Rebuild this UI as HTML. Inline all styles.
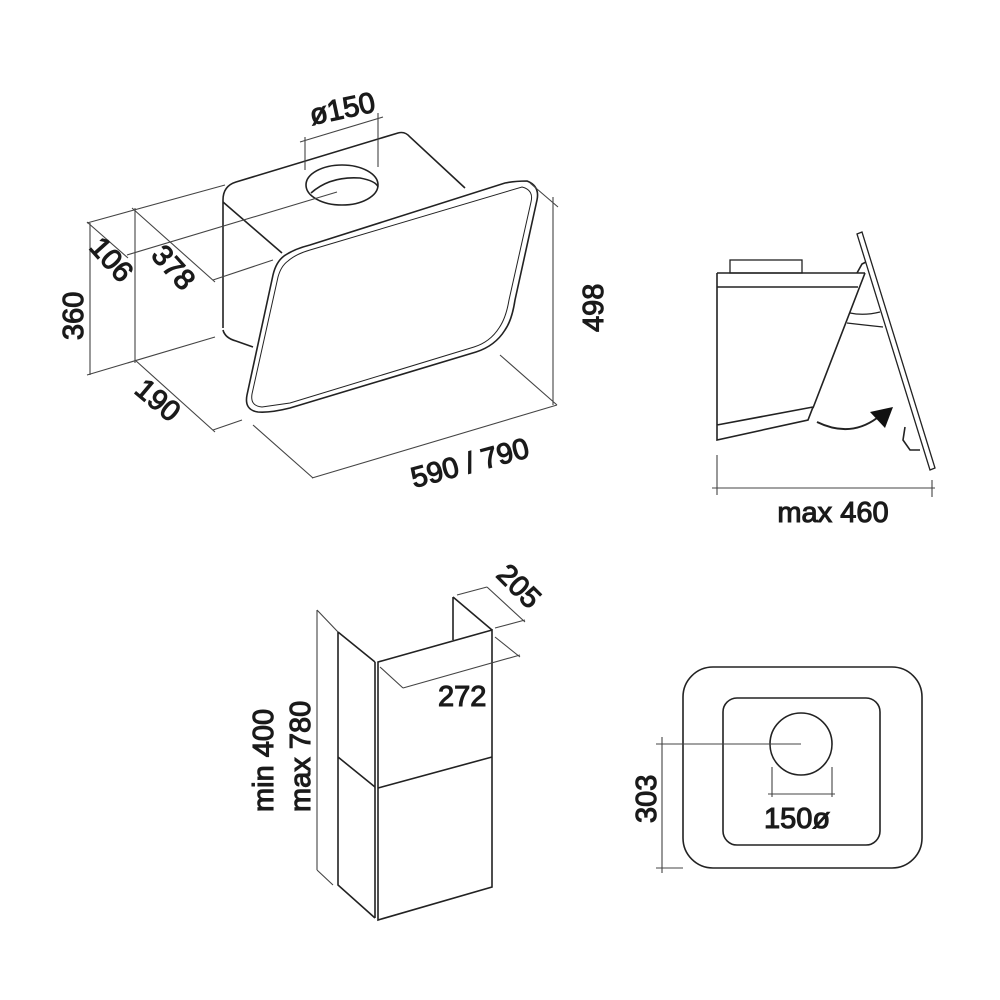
<!DOCTYPE html>
<html><head><meta charset="utf-8"><style>
html,body{margin:0;padding:0;background:#fff}
svg{display:block}
text{font-family:"Liberation Sans",sans-serif;font-size:29px;fill:#1a1a1a;stroke:#1a1a1a;stroke-width:1.1}
.d{stroke:#444;stroke-width:1.1;fill:none}
.o{stroke:#222;stroke-width:1.6;fill:none}
</style></head><body>
<svg width="1000" height="1000" viewBox="0 0 1000 1000" xmlns="http://www.w3.org/2000/svg">
<!-- MAIN HOOD -->
<g class="o">
  <path d="M223,328 L223,200 Q223,186 236,182 L398,133 Q405,131 410,137 L465,188"/>
  <path d="M223,202 L282,253"/>
  <path d="M223,330 Q225,338 236,341 L253,347"/>
  <ellipse cx="342" cy="185" rx="36" ry="20"/>
  <path d="M311,193 Q330,176 360,178 Q376,181 378,187"/>
  <path d="M284,256 Q276,262 273,275 L247,395 Q244,410 258,412 Q270,413 290,408 L476,352 Q495,346 505,330 Q512,320 515,300 L537,200 Q540,186 527,181 Q515,181 505,183 L310,245 Q294,249 284,256 Z"/>
  <path d="M288,261 Q281,266 278,277 L252,394 Q250,406 262,407 L290,403 L474,347 Q490,342 499,328 Q506,318 509,300 L531,202 Q534,190 522,187 L310,250 Q296,254 288,261 Z" stroke-width="1"/>
</g>
<g class="d">
  <path d="M300,142 L383,117 M305,137 L305,170 M378,113 L378,167"/>
  <path d="M87,223 L225,185 M127,255 L337,192 M213,280 L273,260 M87,375 L215,337 M213,430 L242,420"/>
  <path d="M90,223 L90,375 M135,208 L135,363"/>
  <path d="M87,222 L128,258 M132,208 L215,282 M135,360 L215,432 M253,425 L313,478"/>
  <path d="M312,478 L557,405 M553,197 L553,405 M530,183 L558,207 M500,355 L557,405"/>
</g>
<text transform="translate(312,125) rotate(-12)">ø150</text>
<text transform="translate(88,248) rotate(48)">106</text>
<text transform="translate(150,256) rotate(48)">378</text>
<text transform="translate(83,340) rotate(-90)">360</text>
<text transform="translate(133,392) rotate(40)">190</text>
<text transform="translate(414,488) rotate(-15)">590 / 790</text>
<text transform="translate(603,332) rotate(-90)">498</text>

<!-- SIDE VIEW -->
<g class="o">
  <rect x="730" y="260" width="72" height="13" stroke-width="1.3"/>
  <path d="M717,273 L865,273 M717,287 L858,287 M717,273 L717,440 L808,420 L813,407 L717,425 M865,273 L813,408"/>
  <path d="M857,234 L862,232 L935,468 L930,470 Z" stroke-width="1.3"/>
  <path d="M857,273 L862,264 L866,262"/>
  <path d="M905,427 L903,440 L910,450 L920,450"/>
  <path d="M850,313 Q864,316 880,312 M847,323 Q864,325 883,327" stroke-width="1.2"/>
  <path d="M817,422 Q850,438 877,418" stroke-width="2"/>
</g>
<path d="M870,412 L893,407 L885,428 Z" fill="#111"/>
<g class="d">
  <path d="M712,488 L935,488 M717,455 L717,495 M932,480 L932,497"/>
</g>
<text x="833" y="522" text-anchor="middle">max 460</text>

<!-- CHIMNEY -->
<g class="o" stroke-width="1.3">
  <path d="M378,662 L492,630 L492,887 L378,920 Z"/>
  <path d="M375,662 L375,918 M378,788 L492,757"/>
  <path d="M338,632 L375,662 M338,632 L338,885 L375,918 M338,757 L375,787"/>
  <path d="M453,597 L453,640 M453,597 L492,630"/>
</g>
<g class="d">
  <path d="M457,595 L487,587 M487,587 L525,622 M495,628 L525,620"/>
  <path d="M380,667 L403,688 M403,688 L520,655 M495,637 L520,657"/>
  <path d="M317,610 L317,870 M317,610 L338,632 M317,870 L333,885"/>
</g>
<text transform="translate(495,576) rotate(45)">205</text>
<text x="438" y="706">272</text>
<text transform="translate(273,812) rotate(-90)">min 400</text>
<text transform="translate(310,812) rotate(-90)">max 780</text>

<!-- TOP VIEW -->
<g class="o" stroke-width="1.3">
  <rect x="683" y="667" width="239" height="201" rx="30"/>
  <rect x="723" y="698" width="157" height="147" rx="14"/>
  <circle cx="801" cy="744" r="31"/>
</g>
<g class="d">
  <path d="M656,744 L801,744 M662,737 L662,873 M656,868 L683,868"/>
  <path d="M772,767 L772,797 M832,767 L832,797 M768,794 L835,794"/>
</g>
<text x="797" y="828" text-anchor="middle">150ø</text>
<text transform="translate(656,823) rotate(-90)">303</text>
</svg>
</body></html>
